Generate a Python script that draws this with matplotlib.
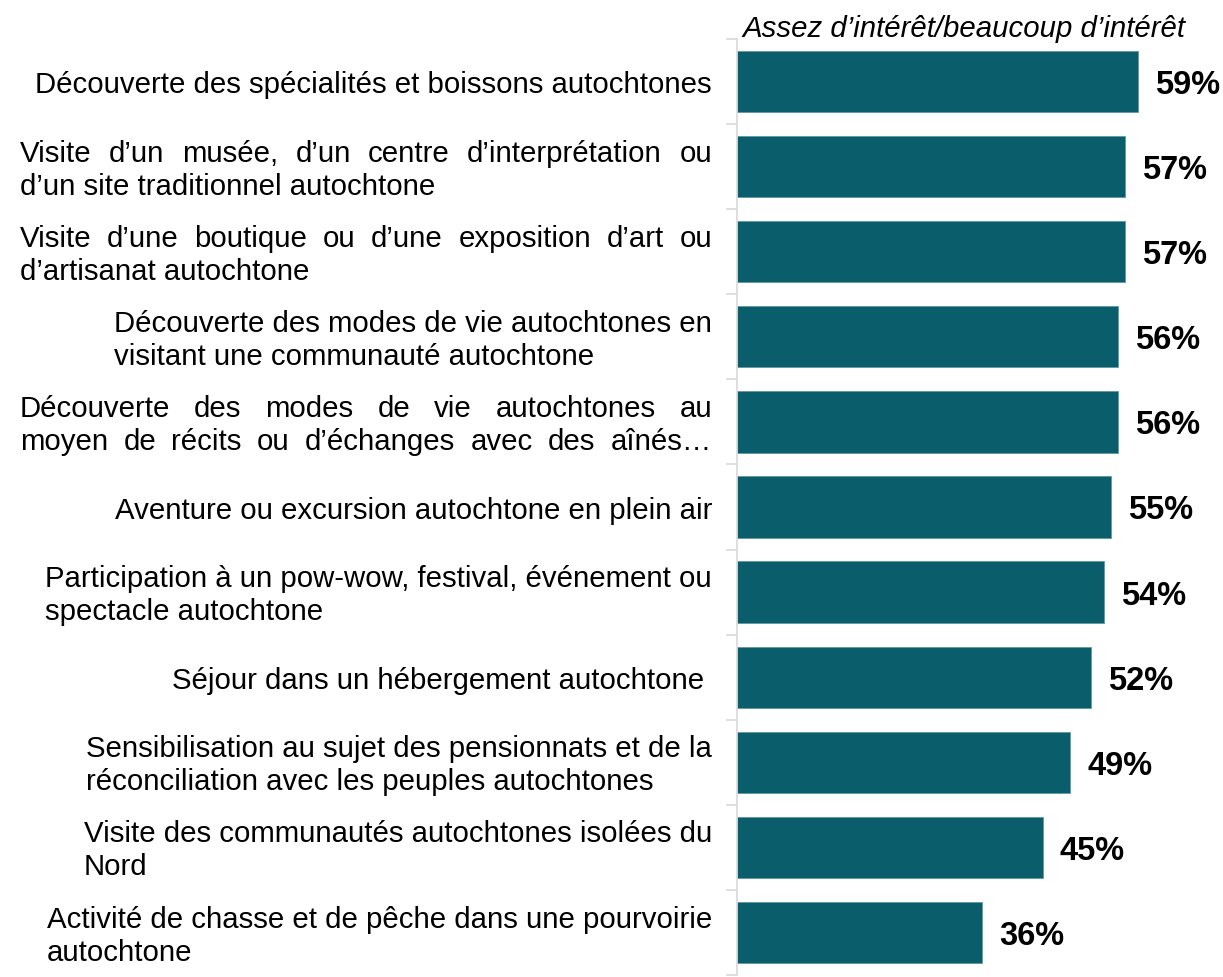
import matplotlib
matplotlib.use('Agg')
import matplotlib.pyplot as plt
from matplotlib import transforms

categories = [
    "Découverte des spécialités et boissons autochtones",
    "Visite d’un musée, d’un centre d’interprétation ou\nd’un site traditionnel autochtone",
    "Visite d’une boutique ou d’une exposition d’art ou\nd’artisanat autochtone",
    "Découverte des modes de vie autochtones en\nvisitant une communauté autochtone",
    "Découverte des modes de vie autochtones au\nmoyen de récits ou d’échanges avec des aînés…",
    "Aventure ou excursion autochtone en plein air",
    "Participation à un pow-wow, festival, événement ou\nspectacle autochtone",
    "Séjour dans un hébergement autochtone ",
    "Sensibilisation au sujet des pensionnats et de la\nréconciliation avec les peuples autochtones",
    "Visite des communautés autochtones isolées du\nNord",
    "Activité de chasse et de pêche dans une pourvoirie\nautochtone",
]
values = [59, 57, 57, 56, 56, 55, 54, 52, 49, 45, 36]
justified_lines = [0, 1, 1, 0, 2, 0, 0, 0, 0, 0, 0]
title = "Assez d’intérêt/beaucoup d’intérêt"

W, H = 1223, 978
FF = "Liberation Sans"
FS = 21.2
LS = 33  # line spacing in px
RIGHT = 712
JLEFT = 20
BAR_COLOR = "#0a5d6b"
BASE_SHIFT = -0.36 * FS * 100 / 72  # baseline below visual centre, px

fig = plt.figure(figsize=(W / 100, H / 100), dpi=100)
ax = fig.add_axes([737 / W, 2 / H, 476 / W, 936 / H])
renderer = fig.canvas.get_renderer()

y = list(range(len(values)))
ax.barh(y, values, height=0.72, color=BAR_COLOR, edgecolor="#5f98a1", linewidth=0.6)
ax.set_xlim(0, 70)
ax.set_ylim(len(values) - 0.5, -0.5)

for s in ["top", "right", "bottom"]:
    ax.spines[s].set_visible(False)
ax.spines["left"].set_color("#d9d9d9")
ax.spines["left"].set_linewidth(1.2)
ax.set_xticks([])
ax.set_yticks([])
ax.set_yticks([k + 0.5 for k in range(-1, len(values))], minor=True)
ax.tick_params(axis="y", which="minor", length=8, color="#d9d9d9", width=1.2, labelleft=False)

val_tr = transforms.offset_copy(ax.transData, fig=fig, y=-3, units="dots")
for i, v in enumerate(values):
    ax.text(v + 2.5, i, f"{v}%", va="center", ha="left", fontsize=23.5,
            fontweight="bold", family=FF, color="black", transform=val_tr)


def text_width(s):
    t = fig.text(0, 0, s, fontsize=FS, family=FF)
    w = t.get_window_extent(renderer).width
    t.remove()
    return w


base = transforms.blended_transform_factory(fig.transFigure, ax.transData)
for i, lab in enumerate(categories):
    lines = lab.split("\n")
    n = len(lines)
    widths = [text_width(l) for l in lines]
    jl = justified_lines[i]
    left = JLEFT if jl else RIGHT - max(widths)
    for k, line in enumerate(lines):
        off = ((n - 1) / 2 - k) * LS + BASE_SHIFT
        tr = transforms.offset_copy(base, fig=fig, y=off, units="dots")
        if k < jl:
            words = line.split(" ")
            ww = [text_width(w) for w in words]
            gap = (RIGHT - JLEFT - sum(ww)) / (len(words) - 1)
            x = JLEFT
            for w, wd in zip(words, ww):
                fig.text(x / W, i, w, transform=tr, fontsize=FS, family=FF,
                         va="baseline", ha="left", color="black")
                x += wd + gap
        else:
            fig.text(left / W, i, line, transform=tr, fontsize=FS, family=FF,
                     va="baseline", ha="left", color="black")

fig.text(742 / W, 1 - 29 / H, title, fontsize=FS, family=FF, style="italic",
         va="center", ha="left", color="black")

fig.savefig("out.png", dpi=100, facecolor="white")
